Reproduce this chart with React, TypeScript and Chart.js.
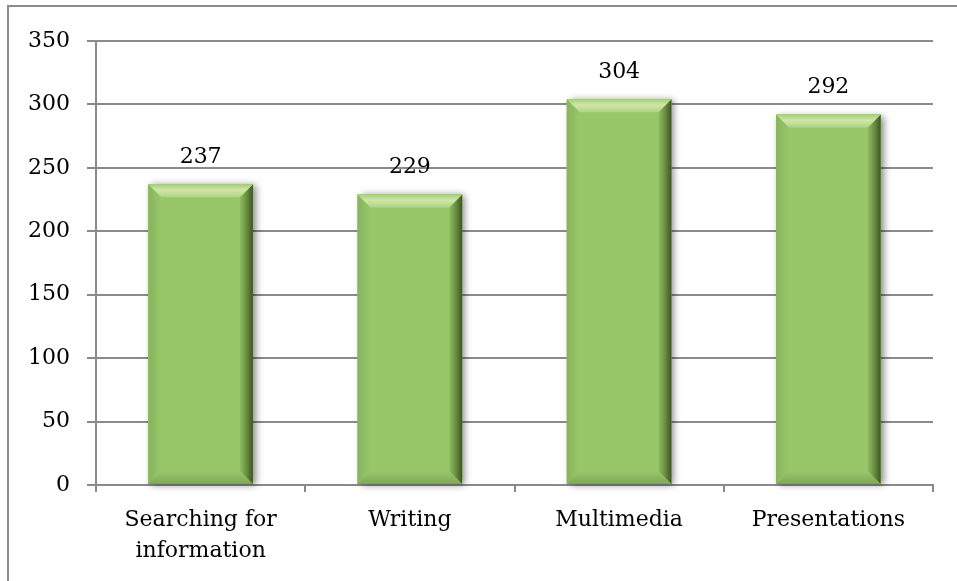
import React, { useEffect, useRef } from "react";
import { Chart, registerables } from "chart.js";

Chart.register(...registerables);

const categories: (string | string[])[] = [
  ["Searching for", "information"],
  "Writing",
  "Multimedia",
  "Presentations",
];
const values: number[] = [237, 229, 304, 292];
const yTicksMax = 350;
const yTicksStep = 50;

const FONT = "'DejaVu Serif', serif";
const FACE = "#98c76a";
const GRID = "#8a8a8e";

const bevelPlugin = {
  id: "bevel",
  beforeDatasetsDraw(chart: any) {
    const ctx = chart.ctx;
    const meta = chart.getDatasetMeta(0);
    meta.data.forEach((bar: any) => {
      const w = bar.width;
      const left = bar.x - w / 2;
      const top = bar.y;
      const h = bar.base - bar.y;
      ctx.save();
      ctx.shadowColor = "rgba(0,0,0,0.45)";
      ctx.shadowBlur = 7;
      ctx.shadowOffsetX = 3;
      ctx.shadowOffsetY = 1;
      ctx.fillStyle = FACE;
      ctx.fillRect(left, top, w, h);
      ctx.restore();
    });
  },
  afterDatasetsDraw(chart: any) {
    const ctx = chart.ctx;
    const meta = chart.getDatasetMeta(0);
    const b = 13;
    meta.data.forEach((bar: any, i: number) => {
      const w = bar.width;
      const l = bar.x - w / 2;
      const r = bar.x + w / 2;
      const t = bar.y;
      const bt = bar.base;
      ctx.save();
      // left
      let g = ctx.createLinearGradient(l, 0, l + b, 0);
      g.addColorStop(0, "#88b45c");
      g.addColorStop(1, FACE);
      ctx.fillStyle = g;
      ctx.beginPath();
      ctx.moveTo(l, t);
      ctx.lineTo(l + b, t + b);
      ctx.lineTo(l + b, bt - b);
      ctx.lineTo(l, bt);
      ctx.closePath();
      ctx.fill();
      // bottom
      g = ctx.createLinearGradient(0, bt - b, 0, bt);
      g.addColorStop(0, FACE);
      g.addColorStop(1, "#7fa855");
      ctx.fillStyle = g;
      ctx.beginPath();
      ctx.moveTo(l, bt);
      ctx.lineTo(l + b, bt - b);
      ctx.lineTo(r - b, bt - b);
      ctx.lineTo(r, bt);
      ctx.closePath();
      ctx.fill();
      // right
      g = ctx.createLinearGradient(r - b, 0, r, 0);
      g.addColorStop(0, "#8fbd62");
      g.addColorStop(0.5, "#6a8f42");
      g.addColorStop(1, "#3f5424");
      ctx.fillStyle = g;
      ctx.beginPath();
      ctx.moveTo(r, t);
      ctx.lineTo(r, bt);
      ctx.lineTo(r - b, bt - b);
      ctx.lineTo(r - b, t + b);
      ctx.closePath();
      ctx.fill();
      // top
      g = ctx.createLinearGradient(0, t, 0, t + b);
      g.addColorStop(0, "#a6cf7a");
      g.addColorStop(0.45, "#cfe6a6");
      g.addColorStop(1, "#afd385");
      ctx.fillStyle = g;
      ctx.beginPath();
      ctx.moveTo(l, t);
      ctx.lineTo(r, t);
      ctx.lineTo(r - b, t + b);
      ctx.lineTo(l + b, t + b);
      ctx.closePath();
      ctx.fill();
      // value label
      ctx.fillStyle = "#000";
      ctx.font = `22px ${FONT}`;
      ctx.textAlign = "center";
      ctx.textBaseline = "middle";
      ctx.fillText(String(values[i]), bar.x, t - 27);
      ctx.restore();
    });
  },
};

export default function App() {
  const ref = useRef<HTMLCanvasElement>(null);
  useEffect(() => {
    if (!ref.current) return;
    const chart = new Chart(ref.current, {
      type: "bar",
      data: {
        labels: categories,
        datasets: [
          {
            data: values,
            backgroundColor: FACE,
            borderWidth: 0,
            barPercentage: 0.5,
            categoryPercentage: 1,
          },
        ],
      },
      options: {
        animation: false,
        responsive: false,
        events: [],
        layout: { padding: { left: 10, right: 24, top: 41, bottom: 0 } },
        plugins: { legend: { display: false }, tooltip: { enabled: false } },
        scales: {
          x: {
            offset: true,
            grid: {
              drawOnChartArea: false,
              drawTicks: true,
              tickLength: 7,
              color: GRID,
              lineWidth: 2,
              offset: true,
            },
            border: { display: true, color: GRID, width: 2 },
            ticks: {
              color: "#000",
              font: { family: FONT, size: 22, lineHeight: 1.4 },
              padding: 13,
              maxRotation: 0,
              autoSkip: false,
            },
            afterFit(scale: any) {
              scale.height = 96;
            },
          },
          y: {
            min: 0,
            max: yTicksMax,
            grid: {
              color: GRID,
              lineWidth: 2,
              tickLength: 9,
              drawTicks: true,
            },
            border: { display: true, color: GRID, width: 2 },
            ticks: {
              stepSize: yTicksStep,
              color: "#000",
              font: { family: FONT, size: 22 },
              padding: 17,
            },
            afterFit(scale: any) {
              scale.width = 86;
            },
          },
        },
      },
      plugins: [bevelPlugin],
    });
    return () => chart.destroy();
  }, []);
  return (
    <div
      style={{
        position: "fixed",
        left: 0,
        top: 0,
        width: 957,
        height: 581,
        overflow: "hidden",
        background: "#fff",
      }}
    >
      <div
        style={{
          position: "absolute",
          left: 7,
          top: 5,
          width: 1100,
          height: 800,
          border: "2px solid #8b8b8f",
        }}
      />
      <canvas
        ref={ref}
        width={957}
        height={581}
        style={{ position: "absolute", left: 0, top: 0 }}
      />
    </div>
  );
}
